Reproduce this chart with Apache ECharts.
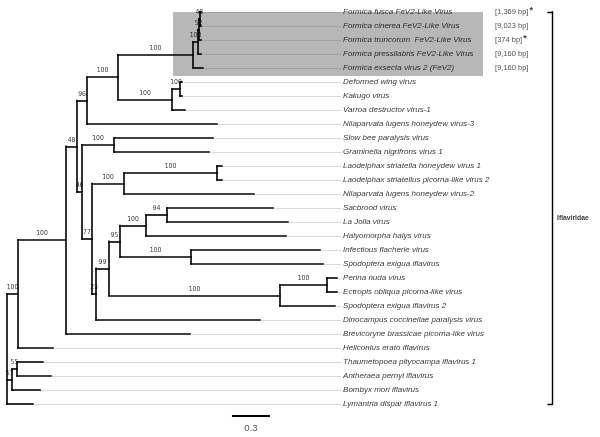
<!DOCTYPE html>
<html><head><meta charset="utf-8">
<script src="https://cdn.jsdelivr.net/npm/echarts@6/dist/echarts.min.js"></script>
<style>html,body{margin:0;padding:0;background:#fff}#c{width:600px;height:437px}</style>
</head><body><div id="c"></div><script>
// ---- DATA ----
const taxa = [
  'Formica fusca FeV2-Like Virus',
  'Formica cinerea FeV2-Like Virus',
  'Formica truncorum  FeV2-Like Virus',
  'Formica pressilabris FeV2-Like Virus',
  'Formica exsecta virus 2 (FeV2)',
  'Deformed wing virus',
  'Kakugo virus',
  'Varroa destructor virus-1',
  'Nilaparvata lugens honeydew virus-3',
  'Slow bee paralysis virus',
  'Graminella nigrifrons virus 1',
  'Laodelphax striatella honeydew virus 1',
  'Laodelphax striatellus picorna-like virus 2',
  'Nilaparvata lugens honeydew virus-2',
  'Sacbrood virus',
  'La Jolla virus',
  'Halyomorpha halys virus',
  'Infectious flacherie virus',
  'Spodoptera exigua iflavirus',
  'Perina nuda virus',
  'Ectropis obliqua picorna-like virus',
  'Spodoptera exigua iflavirus 2',
  'Dinocampus coccinellae paralysis virus',
  'Brevicoryne brassicae picorna-like virus',
  'Heliconius erato iflavirus',
  'Thaumetopoea pityocampa iflavirus 1',
  'Antheraea pernyi iflavirus',
  'Bombyx mori iflavirus',
  'Lymantria dispar iflavirus 1'
];
// parent node of each taxon
const taxaParent = ['F4','F4','F3','F2','F1','D2','D2','D1','G','S1','S1','L2','L2','L1',
  'P5','P5','P4','P6','P6','P8','P8','P7','P1','C','A','B2','B2','B1','root'];
// cumulative distance from root (substitutions/site)
const taxaDepth = [1.532,1.532,1.532,1.532,1.547,1.382,1.382,1.405,1.658,1.626,1.595,1.697,1.697,1.950,
  2.100,2.218,2.203,2.471,2.495,2.605,2.605,2.589,1.997,1.445,0.363,0.284,0.347,0.261,0.205];

const nodeIds     = ['root','A','C','E','G','H','F1','F2','F3','F4','D1','D2','K','S1','M','L1','L2','P1','P3','P4a','P4','P5','P6','P7','P8','B1','B2'];
const nodeParent  = [null,'root','A','C','E','G','H','F1','F2','F3','H','D1','E','K','K','M','L1','M','P1','P3','P4a','P4','P4a','P3','P7','root','B1'];
const nodeDepth   = [0,0.087,0.466,0.553,0.632,0.876,1.468,1.508,1.516,1.520,1.303,1.366,0.592,0.845,0.671,0.924,1.658,0.703,0.805,0.892,1.097,1.263,1.453,2.155,2.526,0.039,0.079];
const nodeSupport = ['','100','100','48','96','100','100','100','52','48','100','100','46','100','77','100','100','23','99','95','100','94','100','100','100','57','55'];

const genomeSize = ['[1,369 bp]','[9,023 bp]','[374 bp]','[9,160 bp]','[9,160 bp]'];
const partialGenome = [true,false,true,false,false];
const familyName = 'Iflaviridae';
const scaleBarValue = 0.3;

// ---- LAYOUT HELPERS (styling / positions) ----
const LABEL_X = 2.653, GUIDE_END = 2.64, BP_X = 3.853, BRACKET_X = 4.303, TICK = 0.032, FAMILY_X = 4.342;
const SCALE_X0 = 1.776, SCALE_ROW = 28.86, SCALE_LABEL_ROW = 29.72;
const nHi = genomeSize.length;

// compute node y
const children = {};
nodeIds.forEach(id => children[id] = []);
taxa.forEach((t, i) => children[taxaParent[i]].push({leaf: i}));
nodeIds.forEach((id, i) => { if (nodeParent[i]) children[nodeParent[i]].push({node: id}); });
const depthOf = {}; nodeIds.forEach((id,i)=>depthOf[id]=nodeDepth[i]);
const yOf = {};
function nodeY(id) {
  if (yOf[id] !== undefined) return yOf[id];
  const ys = children[id].map(c => c.leaf !== undefined ? c.leaf : nodeY(c.node));
  const y = (Math.min(...ys) + Math.max(...ys)) / 2;
  yOf[id] = y; return y;
}
nodeIds.forEach(nodeY);
function childRange(id) {
  const ys = children[id].map(c => c.leaf !== undefined ? c.leaf : yOf[c.node]);
  return [Math.min(...ys), Math.max(...ys)];
}

const treeSegs = [];
taxa.forEach((t, i) => treeSegs.push({coords: [[depthOf[taxaParent[i]], i], [taxaDepth[i], i]]}));
nodeIds.forEach((id, i) => {
  const r = childRange(id);
  treeSegs.push({coords: [[nodeDepth[i], r[0]], [nodeDepth[i], r[1]]]});
  if (nodeParent[i]) treeSegs.push({coords: [[depthOf[nodeParent[i]], yOf[id]], [nodeDepth[i], yOf[id]]]});
});

const guideLight = [], guideDark = [];
taxa.forEach((t, i) => (i < nHi ? guideDark : guideLight).push({coords: [[taxaDepth[i] + 0.01, i], [GUIDE_END, i]]}));

const supportPts = [];
nodeIds.forEach((id, i) => {
  if (!nodeParent[i] || !nodeSupport[i]) return;
  supportPts.push({value: [(depthOf[nodeParent[i]] + nodeDepth[i]) / 2, yOf[id]], name: nodeSupport[i]});
});

const bracketSegs = [
  {coords: [[BRACKET_X, 0], [BRACKET_X, taxa.length - 1]]},
  {coords: [[BRACKET_X - TICK, 0], [BRACKET_X, 0]]},
  {coords: [[BRACKET_X - TICK, taxa.length - 1], [BRACKET_X, taxa.length - 1]]}
];
const scaleSeg = [{coords: [[SCALE_X0, SCALE_ROW], [SCALE_X0 + scaleBarValue, SCALE_ROW]]}];

const hiX0 = depthOf['F1'] - 0.157, hiX1 = 3.758;
const FONT = 'Liberation Sans, Arial, sans-serif';

const chart = echarts.init(document.getElementById('c'), null, {renderer: 'canvas'});
chart.setOption({
  animation: false,
  backgroundColor: '#fff',
  grid: {left: 7, top: 12, width: 570, height: 392},
  xAxis: {type: 'value', min: 0, max: 4.5, show: false},
  yAxis: {type: 'value', min: 0, max: taxa.length - 1, inverse: true, show: false},
  series: [
    {type: 'scatter', data: [], silent: true, z: 0,
     markArea: {silent: true, itemStyle: {color: '#b7b7b7', opacity: 1},
       data: [[{coord: [hiX0, -0.64]}, {coord: [hiX1, nHi - 1 + 0.57]}]]}},
    {type: 'lines', coordinateSystem: 'cartesian2d', clip: false, silent: true, z: 1,
     lineStyle: {color: '#d9d9d9', width: 1, opacity: 1}, data: guideLight},
    {type: 'lines', coordinateSystem: 'cartesian2d', clip: false, silent: true, z: 1,
     lineStyle: {color: '#a2a2a2', width: 1, opacity: 1}, data: guideDark},
    {type: 'lines', coordinateSystem: 'cartesian2d', clip: false, silent: true, z: 3,
     lineStyle: {color: '#000', width: 1.6, opacity: 1, cap: 'square'}, data: treeSegs},
    {type: 'lines', coordinateSystem: 'cartesian2d', clip: false, silent: true, z: 3,
     lineStyle: {color: '#000', width: 1.4, opacity: 1, cap: 'square'}, data: bracketSegs},
    {type: 'lines', coordinateSystem: 'cartesian2d', clip: false, silent: true, z: 3,
     lineStyle: {color: '#000', width: 2, opacity: 1}, data: scaleSeg},
    {type: 'scatter', clip: false, silent: true, symbolSize: 0, z: 4,
     data: taxa.map((t, i) => ({value: [LABEL_X, i], name: t})),
     label: {show: true, position: 'right', distance: 0, formatter: p => p.name,
       fontFamily: FONT, fontStyle: 'italic', fontSize: 8, color: '#000'}},
    {type: 'scatter', clip: false, silent: true, symbolSize: 0, z: 4,
     data: genomeSize.map((g, i) => ({value: [BP_X, i], name: g, star: partialGenome[i]})),
     label: {show: true, position: 'right', distance: 0,
       formatter: p => '{a|' + p.name + '}' + (p.data.star ? '{s|*}' : ''),
       rich: {a: {fontFamily: FONT, fontSize: 7.5, color: '#222'},
              s: {fontFamily: FONT, fontSize: 9, fontWeight: 'bold', color: '#000', verticalAlign: 'top', padding: [0, 0, 3, 1]}}}},
    {type: 'scatter', clip: false, silent: true, symbolSize: 0, z: 4,
     data: supportPts,
     label: {show: true, position: 'inside', offset: [0, -6.5], formatter: p => p.name,
       fontFamily: 'Liberation Sans Narrow, DejaVu Sans Condensed, sans-serif', fontSize: 6.8, color: '#000'}},
    {type: 'scatter', clip: false, silent: true, symbolSize: 0, z: 4,
     data: [{value: [FAMILY_X, 14.7], name: familyName}],
     label: {show: true, position: 'right', distance: 0, formatter: p => p.name,
       fontFamily: FONT, fontWeight: 'bold', fontSize: 6.8, color: '#000'}},
    {type: 'scatter', clip: false, silent: true, symbolSize: 0, z: 4,
     data: [{value: [SCALE_X0 + scaleBarValue / 2, SCALE_LABEL_ROW], name: String(scaleBarValue)}],
     label: {show: true, position: 'inside', formatter: p => p.name,
       fontFamily: FONT, fontSize: 9.5, color: '#222'}}
  ]
});
</script></body></html>
